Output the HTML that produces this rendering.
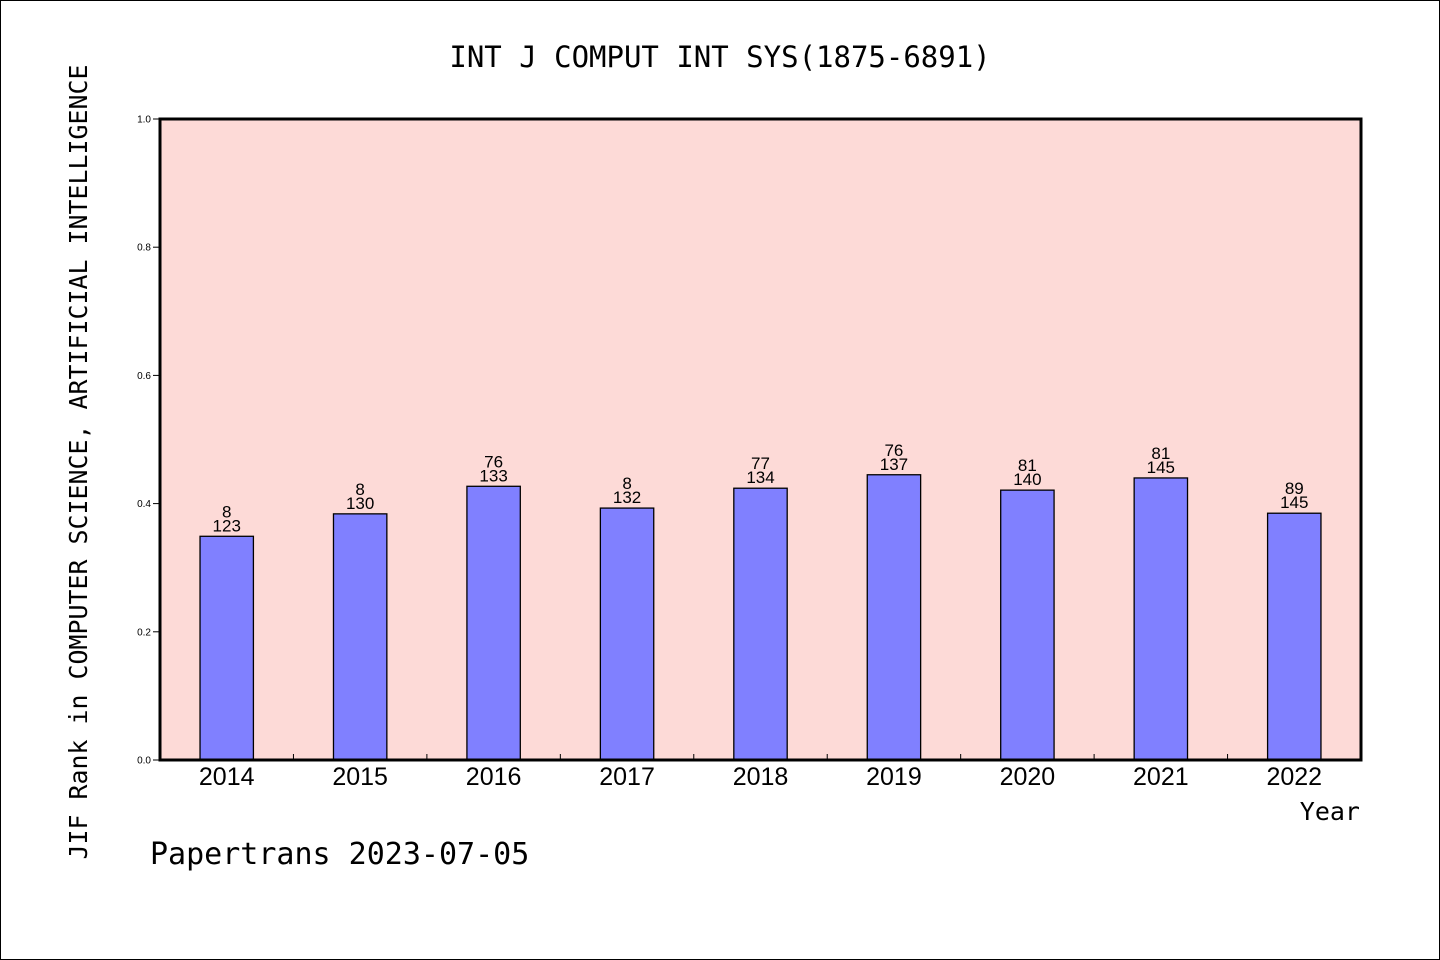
<!DOCTYPE html>
<html><head><meta charset="utf-8">
<style>
html,body{margin:0;padding:0;background:#fff;}
#wrap{position:relative;width:1438px;height:958px;border:1px solid #000;overflow:hidden;}
svg text{font-family:"DejaVu Sans Mono","Liberation Mono",monospace;fill:#000;}
svg text.sans{font-family:"Liberation Sans",sans-serif;}
</style></head>
<body>
<div id="wrap">
<svg id="chart" width="1438" height="958" viewBox="1 1 1438 958">
<text x="720" y="67" font-size="29" text-anchor="middle">INT J COMPUT INT SYS(1875-6891)</text>
<rect x="160" y="119" width="1201" height="641" fill="#fddad7"/>
<g id="bars"></g>
<rect x="160" y="119" width="1201" height="641" fill="none" stroke="#000" stroke-width="3"/>
<text transform="translate(87,462) rotate(-90)" font-size="25" text-anchor="middle" textLength="795" lengthAdjust="spacingAndGlyphs">JIF Rank in COMPUTER SCIENCE, ARTIFICIAL INTELLIGENCE</text>
<text x="1360" y="820" font-size="25" text-anchor="end">Year</text>
<text x="150" y="864" font-size="30">Papertrans 2023-07-05</text>
</svg>
</div>
<script>
const years=["2014","2015","2016","2017","2018","2019","2020","2021","2022"];
const values=[0.349,0.384,0.427,0.393,0.424,0.445,0.421,0.440,0.385];
const ranks=["8","8","76","8","77","76","81","81","89"];
const totals=["123","130","133","132","134","137","140","145","145"];
const yTicks=[0,0.2,0.4,0.6,0.8,1.0];
const yTickLabels=["0.0","0.2","0.4","0.6","0.8","1.0"];
const NS="http://www.w3.org/2000/svg";
const L=160,R=1361,T=119,B=760;
const slot=(R-L)/years.length;
const xC=i=>L+slot*(i+0.5);
const y=v=>B-(B-T)*v;
const g=document.getElementById('bars');
const svg=document.getElementById('chart');
function mk(tag,attrs,parent){const e=document.createElementNS(NS,tag);for(const k in attrs)e.setAttribute(k,attrs[k]);(parent||svg).appendChild(e);return e;}
years.forEach((yr,i)=>{
  const w=slot*0.4;
  const r=mk('rect',{x:xC(i)-w/2,y:y(values[i]),width:w,height:B-y(values[i]),fill:'#8080ff',stroke:'#000','stroke-width':1.3},g);
  
  
  const t1=mk('text',{x:xC(i),y:y(values[i])-19,'font-size':17,'text-anchor':'middle',class:'sans'},g);
  t1.textContent=ranks[i];
  
  
  const t2=mk('text',{x:xC(i),y:y(values[i])-5,'font-size':17,'text-anchor':'middle',class:'sans'},g);
  t2.textContent=totals[i];
  
  
  const xl=mk('text',{x:xC(i),y:785,'font-size':25,'text-anchor':'middle',class:'sans'});
  xl.textContent=yr;
  
  
  if(i>0){
    const tk=mk('line',{x1:L+slot*i,x2:L+slot*i,y1:B,y2:B-6,stroke:'#000','stroke-width':1});
    
    
  }
});
yTicks.forEach((v,i)=>{
  const tk=mk('line',{x1:L-7,x2:L,y1:y(v),y2:y(v),stroke:'#000','stroke-width':1});
  
  
  const tl=mk('text',{x:151,y:y(v)+3.5,'font-size':10,'text-anchor':'end',class:'sans'});
  tl.textContent=yTickLabels[i];
  
  
});
</script>
</body></html>
